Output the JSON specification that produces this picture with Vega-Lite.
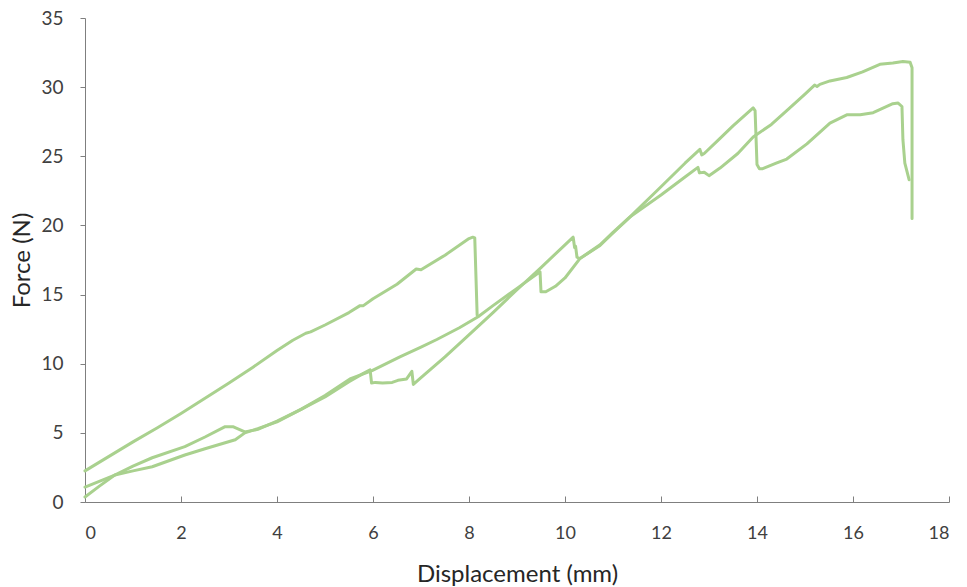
{
  "$schema": "https://vega.github.io/schema/vega-lite/v6.json",
  "width": 864,
  "height": 484,
  "autosize": "none",
  "padding": {"left": 85, "top": 18, "right": 18, "bottom": 85},
  "background": "white",
  "config": {
    "view": {"stroke": null},
    "axis": {"grid": false, "domainColor": "#7f7f7f", "tickColor": "#7f7f7f", "labelColor": "#404040", "titleColor": "#262626", "labelFont": "Lato", "titleFont": "Lato", "titleFontWeight": "normal"}
  },
  "data": {"values": [
    {"s":"A","i":0,"x":0,"y":2.25},{"s":"A","i":1,"x":0.5,"y":3.3},{"s":"A","i":2,"x":1,"y":4.35},{"s":"A","i":3,"x":1.5,"y":5.35},{"s":"A","i":4,"x":2,"y":6.4},{"s":"A","i":5,"x":2.5,"y":7.5},{"s":"A","i":6,"x":3,"y":8.6},{"s":"A","i":7,"x":3.5,"y":9.75},{"s":"A","i":8,"x":4,"y":10.95},{"s":"A","i":9,"x":4.33,"y":11.7},{"s":"A","i":10,"x":4.6,"y":12.2},{"s":"A","i":11,"x":4.7,"y":12.3},{"s":"A","i":12,"x":5,"y":12.8},{"s":"A","i":13,"x":5.5,"y":13.7},{"s":"A","i":14,"x":5.73,"y":14.2},{"s":"A","i":15,"x":5.8,"y":14.2},{"s":"A","i":16,"x":6,"y":14.7},{"s":"A","i":17,"x":6.5,"y":15.75},{"s":"A","i":18,"x":6.9,"y":16.85},{"s":"A","i":19,"x":7.0,"y":16.8},{"s":"A","i":20,"x":7.5,"y":17.85},{"s":"A","i":21,"x":8.0,"y":19.05},{"s":"A","i":22,"x":8.08,"y":19.15},{"s":"A","i":23,"x":8.12,"y":19.1},{"s":"A","i":24,"x":8.17,"y":13.5},
    {"s":"B","i":0,"x":0,"y":1.08},{"s":"B","i":1,"x":0.62,"y":1.95},{"s":"B","i":2,"x":1.0,"y":2.25},{"s":"B","i":3,"x":1.4,"y":2.55},{"s":"B","i":4,"x":2.08,"y":3.4},{"s":"B","i":5,"x":2.5,"y":3.85},{"s":"B","i":6,"x":3.13,"y":4.5},{"s":"B","i":7,"x":3.33,"y":5.0},{"s":"B","i":8,"x":3.6,"y":5.3},{"s":"B","i":9,"x":4.0,"y":5.8},{"s":"B","i":10,"x":4.5,"y":6.7},{"s":"B","i":11,"x":5.0,"y":7.7},{"s":"B","i":12,"x":5.52,"y":8.9},{"s":"B","i":13,"x":5.98,"y":9.5},{"s":"B","i":14,"x":6.56,"y":10.5},{"s":"B","i":15,"x":7.0,"y":11.2},{"s":"B","i":16,"x":7.33,"y":11.75},{"s":"B","i":17,"x":7.8,"y":12.6},{"s":"B","i":18,"x":8.19,"y":13.4},{"s":"B","i":19,"x":8.5,"y":14.2},{"s":"B","i":20,"x":9.0,"y":15.45},{"s":"B","i":21,"x":9.48,"y":16.65},{"s":"B","i":22,"x":9.5,"y":15.2},{"s":"B","i":23,"x":9.6,"y":15.2},{"s":"B","i":24,"x":9.8,"y":15.6},{"s":"B","i":25,"x":10.0,"y":16.2},{"s":"B","i":26,"x":10.31,"y":17.6},{"s":"B","i":27,"x":10.73,"y":18.55},{"s":"B","i":28,"x":11.0,"y":19.45},{"s":"B","i":29,"x":11.35,"y":20.6},{"s":"B","i":30,"x":12.0,"y":22.2},{"s":"B","i":31,"x":12.5,"y":23.5},{"s":"B","i":32,"x":12.77,"y":24.2},{"s":"B","i":33,"x":12.8,"y":23.8},{"s":"B","i":34,"x":12.9,"y":23.85},{"s":"B","i":35,"x":13.0,"y":23.6},{"s":"B","i":36,"x":13.23,"y":24.15},{"s":"B","i":37,"x":13.6,"y":25.2},{"s":"B","i":38,"x":13.92,"y":26.4},{"s":"B","i":39,"x":14.3,"y":27.3},{"s":"B","i":40,"x":14.62,"y":28.3},{"s":"B","i":41,"x":15.0,"y":29.5},{"s":"B","i":42,"x":15.2,"y":30.15},{"s":"B","i":43,"x":15.25,"y":30.05},{"s":"B","i":44,"x":15.31,"y":30.2},{"s":"B","i":45,"x":15.52,"y":30.45},{"s":"B","i":46,"x":15.87,"y":30.7},{"s":"B","i":47,"x":16.2,"y":31.1},{"s":"B","i":48,"x":16.56,"y":31.65},{"s":"B","i":49,"x":16.83,"y":31.75},{"s":"B","i":50,"x":17.04,"y":31.85},{"s":"B","i":51,"x":17.19,"y":31.8},{"s":"B","i":52,"x":17.23,"y":31.4},{"s":"B","i":53,"x":17.23,"y":20.5},
    {"s":"C","i":0,"x":0,"y":0.36},{"s":"C","i":1,"x":0.3,"y":1.15},{"s":"C","i":2,"x":0.62,"y":1.95},{"s":"C","i":3,"x":1.0,"y":2.6},{"s":"C","i":4,"x":1.4,"y":3.2},{"s":"C","i":5,"x":2.08,"y":4.0},{"s":"C","i":6,"x":2.5,"y":4.7},{"s":"C","i":7,"x":2.92,"y":5.45},{"s":"C","i":8,"x":3.08,"y":5.45},{"s":"C","i":9,"x":3.33,"y":5.07},{"s":"C","i":10,"x":3.6,"y":5.25},{"s":"C","i":11,"x":4.0,"y":5.85},{"s":"C","i":12,"x":4.5,"y":6.7},{"s":"C","i":13,"x":5.0,"y":7.6},{"s":"C","i":14,"x":5.5,"y":8.7},{"s":"C","i":15,"x":5.8,"y":9.3},{"s":"C","i":16,"x":5.94,"y":9.55},{"s":"C","i":17,"x":5.97,"y":8.6},{"s":"C","i":18,"x":6.05,"y":8.65},{"s":"C","i":19,"x":6.2,"y":8.6},{"s":"C","i":20,"x":6.4,"y":8.65},{"s":"C","i":21,"x":6.52,"y":8.8},{"s":"C","i":22,"x":6.7,"y":8.9},{"s":"C","i":23,"x":6.81,"y":9.45},{"s":"C","i":24,"x":6.84,"y":8.5},{"s":"C","i":25,"x":7.0,"y":9.0},{"s":"C","i":26,"x":7.5,"y":10.5},{"s":"C","i":27,"x":7.88,"y":11.7},{"s":"C","i":28,"x":8.5,"y":13.7},{"s":"C","i":29,"x":9.0,"y":15.35},{"s":"C","i":30,"x":9.5,"y":16.95},{"s":"C","i":31,"x":10.0,"y":18.6},{"s":"C","i":32,"x":10.17,"y":19.15},{"s":"C","i":33,"x":10.2,"y":18.4},{"s":"C","i":34,"x":10.22,"y":18.5},{"s":"C","i":35,"x":10.25,"y":17.7},{"s":"C","i":36,"x":10.31,"y":17.6},{"s":"C","i":37,"x":10.73,"y":18.6},{"s":"C","i":38,"x":11.0,"y":19.5},{"s":"C","i":39,"x":11.35,"y":20.6},{"s":"C","i":40,"x":12.0,"y":22.8},{"s":"C","i":41,"x":12.5,"y":24.5},{"s":"C","i":42,"x":12.81,"y":25.5},{"s":"C","i":43,"x":12.85,"y":25.1},{"s":"C","i":44,"x":12.9,"y":25.2},{"s":"C","i":45,"x":13.23,"y":26.3},{"s":"C","i":46,"x":13.5,"y":27.2},{"s":"C","i":47,"x":13.92,"y":28.5},{"s":"C","i":48,"x":13.96,"y":28.3},{"s":"C","i":49,"x":14.0,"y":24.4},{"s":"C","i":50,"x":14.05,"y":24.1},{"s":"C","i":51,"x":14.12,"y":24.1},{"s":"C","i":52,"x":14.4,"y":24.5},{"s":"C","i":53,"x":14.62,"y":24.8},{"s":"C","i":54,"x":15.04,"y":25.9},{"s":"C","i":55,"x":15.52,"y":27.4},{"s":"C","i":56,"x":15.87,"y":28.0},{"s":"C","i":57,"x":16.15,"y":28.0},{"s":"C","i":58,"x":16.42,"y":28.15},{"s":"C","i":59,"x":16.83,"y":28.8},{"s":"C","i":60,"x":16.94,"y":28.85},{"s":"C","i":61,"x":17.02,"y":28.6},{"s":"C","i":62,"x":17.04,"y":26.2},{"s":"C","i":63,"x":17.08,"y":24.5},{"s":"C","i":64,"x":17.17,"y":23.3}
  ]},
  "mark": {"type": "line", "color": "#a9d18e", "strokeWidth": 3, "strokeJoin": "round", "strokeCap": "round"},
  "encoding": {
    "x": {"field": "x", "type": "quantitative", "scale": {"domain": [0, 18], "nice": false, "zero": false},
      "axis": {"title": "Displacement (mm)", "values": [0,2,4,6,8,10,12,14,16,18], "tickSize": -6, "labelPadding": 28, "labelFontSize": 18, "titleFontSize": 24, "titleBaseline": "alphabetic", "titleY": 79, "titleX": 432, "titleAnchor": "middle"}},
    "y": {"field": "y", "type": "quantitative", "scale": {"domain": [0, 35], "nice": false},
      "axis": {"title": "Force (N)", "values": [0,5,10,15,20,25,30,35], "tickSize": 5, "labelPadding": 17, "labelFontSize": 19, "titleFontSize": 24, "titleX": -51, "titleY": 242, "titleAngle": -90, "titleBaseline": "bottom", "titleAnchor": "middle"}},
    "detail": {"field": "s"},
    "order": {"field": "i", "type": "quantitative"}
  }
}
